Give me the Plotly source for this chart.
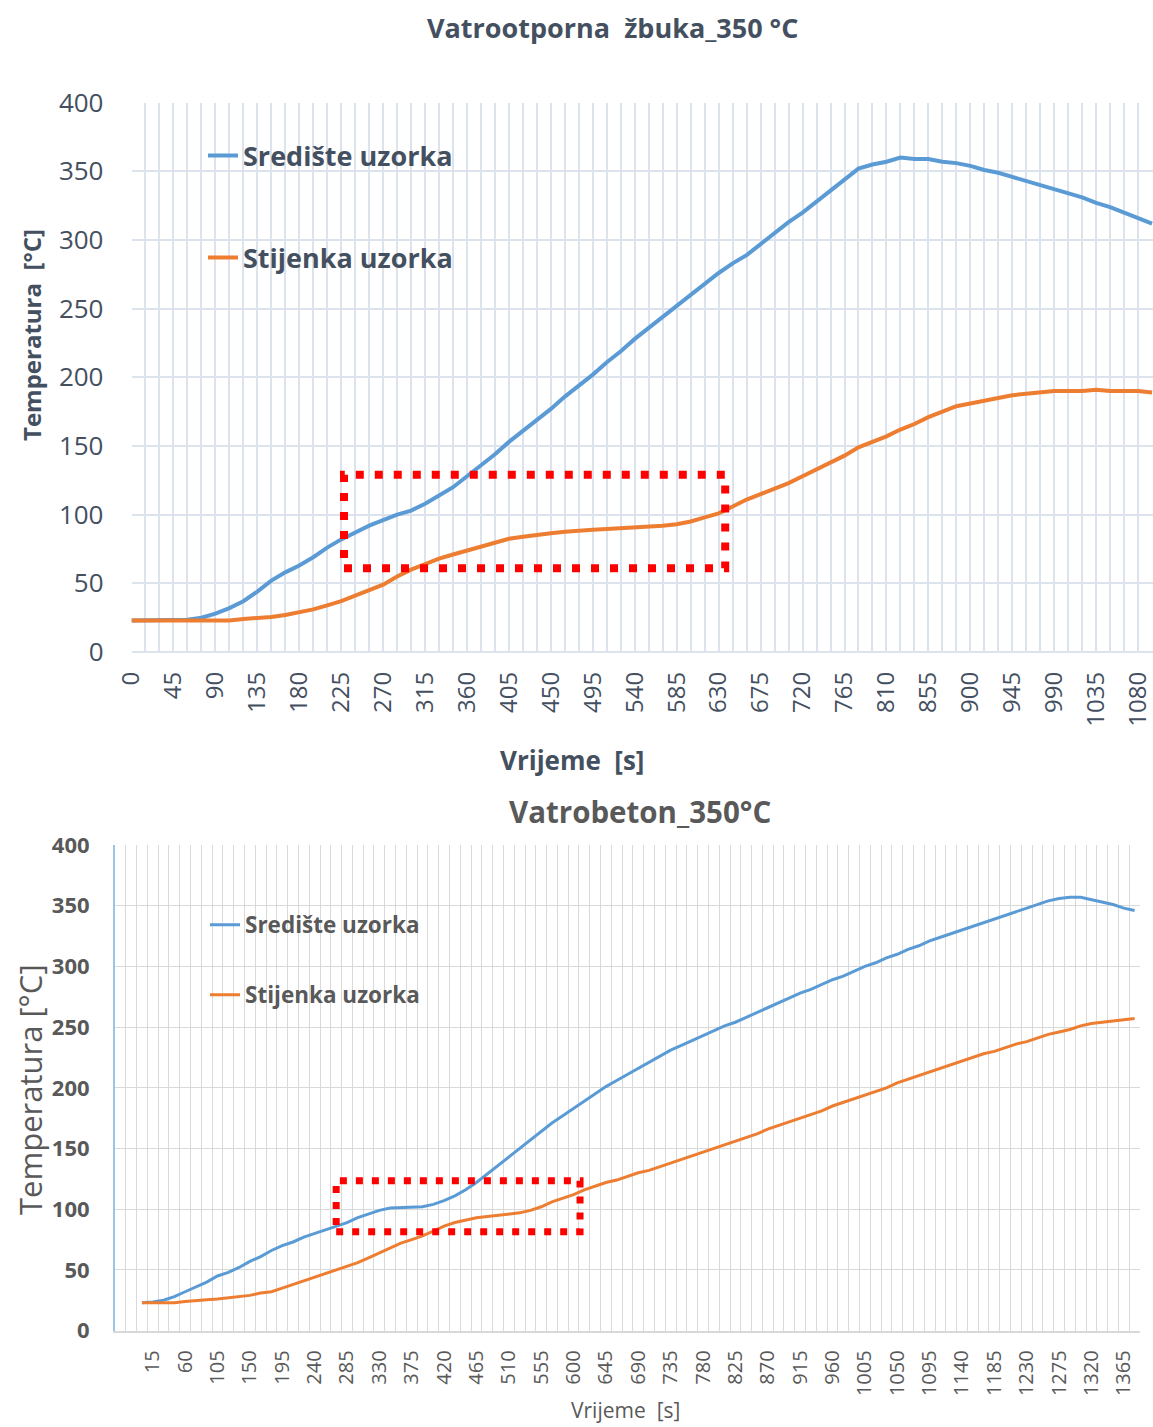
import plotly.graph_objects as go

# ---------------- data ----------------
top_title = "Vatrootporna  žbuka_350 °C"
bottom_title = "Vatrobeton_350°C"
series_names = ["Središte uzorka", "Stijenka uzorka"]

top_time = list(range(0, 1096, 15))
top_center = [23, 23, 23, 23, 23.5, 25, 28, 32, 37, 44, 52, 58, 63, 69, 76, 82, 87, 92, 96, 100,
              103, 108, 114, 120, 128, 136, 144, 153, 161, 169, 177, 186, 194, 202, 211, 219, 228,
              236, 244, 252, 260, 268, 276, 283, 289, 297, 305, 313, 320, 328, 336, 344, 352, 355,
              357, 360, 359, 359, 357, 356, 354, 351, 349, 346, 343, 340, 337, 334, 331, 327, 324,
              320, 316, 312]
top_wall = [23, 23, 23, 23, 23, 23, 23, 23, 24, 24.5, 25.5, 27, 29, 31, 34, 37, 41, 45, 49, 55,
            60, 64, 68, 71, 74, 77, 80, 82.5, 84, 85.5, 86.5, 87.5, 88.5, 89, 89.5, 90, 90.5, 91,
            92, 93, 95, 98, 101, 106, 111, 115, 119, 123, 128, 133, 138, 143, 149, 153, 157, 162,
            166, 171, 175, 179, 181, 183, 185, 187, 188, 189, 190, 190, 190, 191, 190, 190, 190,
            189]
top_tick_labels = list(range(0, 1081, 45))
top_box_x = [228, 637]
top_box_y = [61, 129]

bottom_time = list(range(0, 1381, 15))
bottom_center = [23, 23.5, 25, 28, 32, 36, 40, 45, 48, 52, 57, 61, 66, 70, 73, 77, 80, 83, 86, 89,
                 93, 96, 99, 101, 101.5, 102, 102, 104, 107, 111, 116, 122, 129, 136, 143, 150,
                 157, 164, 171, 177, 183, 189, 195, 201, 206, 211, 216, 221, 226, 231, 235, 239,
                 243, 247, 251, 254, 258, 262, 266, 270, 274, 278, 281, 285, 289, 292, 296, 300,
                 303, 307, 310, 314, 317, 321, 324, 327, 330, 333, 336, 339, 342, 345, 348, 351,
                 354, 356, 357, 357, 355, 353, 351, 348, 346]
bottom_wall = [23, 23, 23, 23, 24, 25, 25.5, 26, 27, 28, 29, 31, 32, 35, 38, 41, 44, 47, 50, 53,
               56, 60, 64, 68, 72, 75, 78, 82, 86, 89, 91, 93, 94, 95, 96, 97, 99, 102, 106, 109,
               112, 116, 119, 122, 124, 127, 130, 132, 135, 138, 141, 144, 147, 150, 153, 156,
               159, 162, 166, 169, 172, 175, 178, 181, 185, 188, 191, 194, 197, 200, 204, 207,
               210, 213, 216, 219, 222, 225, 228, 230, 233, 236, 238, 241, 244, 246, 248, 251,
               253, 254, 255, 256, 257]
bottom_tick_labels = list(range(15, 1366, 45))
bottom_box_x = [270, 609]
bottom_box_y = [81.5, 123.5]

assert len(top_time) == len(top_center) == len(top_wall)
assert len(bottom_time) == len(bottom_center) == len(bottom_wall)

# ---------------- styles ----------------
W, H = 1153, 1427
FONT = "Open Sans"
BLUE = "#5B9BD5"
ORANGE = "#ED7D31"
TOP_TXT = "#44505f"
BOT_TXT = "#595959"
TOP_GRID = "#dde3ec"
BOT_GRID = "#d9d9d9"


def px(x):
    return x / W


def py(y):
    return 1 - y / H


fig = go.Figure()
fig.add_trace(go.Scatter(x=top_time, y=top_center, name=series_names[0], mode="lines",
                         line=dict(color=BLUE, width=4), xaxis="x", yaxis="y", legend="legend"))
fig.add_trace(go.Scatter(x=top_time, y=top_wall, name=series_names[1], mode="lines",
                         line=dict(color=ORANGE, width=4), xaxis="x", yaxis="y", legend="legend2"))
fig.add_trace(go.Scatter(x=bottom_time, y=bottom_center, name=series_names[0], mode="lines",
                         line=dict(color=BLUE, width=3), xaxis="x2", yaxis="y2", legend="legend3"))
fig.add_trace(go.Scatter(x=bottom_time, y=bottom_wall, name=series_names[1], mode="lines",
                         line=dict(color=ORANGE, width=3), xaxis="x2", yaxis="y2", legend="legend4"))

# red dotted boxes
fig.add_shape(type="rect", xref="x", yref="y", x0=top_box_x[0], x1=top_box_x[1],
              y0=top_box_y[0], y1=top_box_y[1],
              line=dict(color="#ff0000", width=8, dash="8px,11px"), layer="above")
fig.add_shape(type="rect", xref="x2", yref="y2", x0=bottom_box_x[0], x1=bottom_box_x[1],
              y0=bottom_box_y[0], y1=bottom_box_y[1],
              line=dict(color="#ff0000", width=7, dash="7px,9px"), layer="above")

leg_common = dict(xanchor="left", yanchor="middle", bgcolor="rgba(0,0,0,0)",
                  borderwidth=0, itemclick=False, itemdoubleclick=False)

fig.update_layout(
    width=W, height=H,
    margin=dict(l=0, r=0, t=0, b=0, autoexpand=False),
    paper_bgcolor="white", plot_bgcolor="white",
    font=dict(family=FONT),
    showlegend=True,
    xaxis=dict(
        domain=[px(131.5), 1.0], range=[0, 1096], anchor="y", automargin=False,
        tickmode="array", tickvals=top_tick_labels, ticktext=[str(v) for v in top_tick_labels],
        tickangle=-90, tickfont=dict(family=FONT, size=24, color=TOP_TXT),
        showgrid=True, gridcolor=TOP_GRID, gridwidth=1.5,
        minor=dict(tick0=0, dtick=15, showgrid=True, gridcolor=TOP_GRID, gridwidth=1.5),
        zeroline=False, showline=False, ticks="", ticklabelstandoff=14,
    ),
    yaxis=dict(
        domain=[py(652), py(102.7)], range=[0, 400], anchor="x", automargin=False,
        tickmode="linear", tick0=0, dtick=50,
        tickfont=dict(family=FONT, size=26, color=TOP_TXT),
        showgrid=True, gridcolor=TOP_GRID, gridwidth=1.5,
        zeroline=True, zerolinecolor=TOP_GRID, zerolinewidth=1.5,
        showline=False, ticks="", ticklabelstandoff=27,
    ),
    xaxis2=dict(
        domain=[px(115), px(1140)], range=[-37.5, 1387.5], anchor="y2", automargin=False,
        tickmode="array", tickvals=bottom_tick_labels,
        ticktext=[str(v) for v in bottom_tick_labels],
        tickangle=-90, tickfont=dict(family=FONT, size=20, color=BOT_TXT),
        showgrid=False,
        minor=dict(tick0=7.5, dtick=15, showgrid=True, gridcolor=BOT_GRID, gridwidth=1),
        zeroline=False, showline=True, linecolor=BOT_GRID, linewidth=1.5,
        ticks="", ticklabelstandoff=10,
    ),
    yaxis2=dict(
        domain=[py(1330.6), py(845)], range=[0, 400], anchor="x2", automargin=False,
        tickmode="linear", tick0=0, dtick=50,
        tickfont=dict(family=FONT, size=22, color=BOT_TXT, weight="bold"),
        showgrid=True, gridcolor=BOT_GRID, gridwidth=1,
        zeroline=False, showline=True, linecolor="#9DC3E6", linewidth=2,
        ticks="", ticklabelstandoff=19,
    ),
    legend=dict(x=px(203), y=py(156),
                font=dict(family=FONT, size=27, color=TOP_TXT, weight="bold"), **leg_common),
    legend2=dict(x=px(203), y=py(258),
                 font=dict(family=FONT, size=27, color=TOP_TXT, weight="bold"), **leg_common),
    legend3=dict(x=px(205), y=py(925),
                 font=dict(family=FONT, size=22.5, color=BOT_TXT, weight="bold"), **leg_common),
    legend4=dict(x=px(205), y=py(995),
                 font=dict(family=FONT, size=22.5, color=BOT_TXT, weight="bold"), **leg_common),
)

annotations = [
    dict(text=top_title, x=px(613), y=py(28), font=dict(size=27, color=TOP_TXT, weight="bold")),
    dict(text="Temperatura  [°C]", x=px(31), y=py(335), textangle=-90,
         font=dict(size=24, color=TOP_TXT, weight="bold")),
    dict(text="Vrijeme  [s]", x=px(572), y=py(760), font=dict(size=26, color=TOP_TXT, weight="bold")),
    dict(text=bottom_title, x=px(640), y=py(812), font=dict(size=29.5, color=BOT_TXT, weight="bold")),
    dict(text="Temperatura [°C]", x=px(30), y=py(1090), textangle=-90,
         font=dict(size=31, color=BOT_TXT)),
    dict(text="Vrijeme  [s]", x=px(625), y=py(1410), font=dict(size=21, color=BOT_TXT)),
]
for a in annotations:
    a.update(xref="paper", yref="paper", xanchor="center", yanchor="middle", showarrow=False)
    a["font"]["family"] = FONT
fig.update_layout(annotations=annotations)

fig.write_html(
    "out.html",
    config={"displayModeBar": False},
    post_script="document.body.style.margin='0';document.body.style.overflow='hidden';",
)
